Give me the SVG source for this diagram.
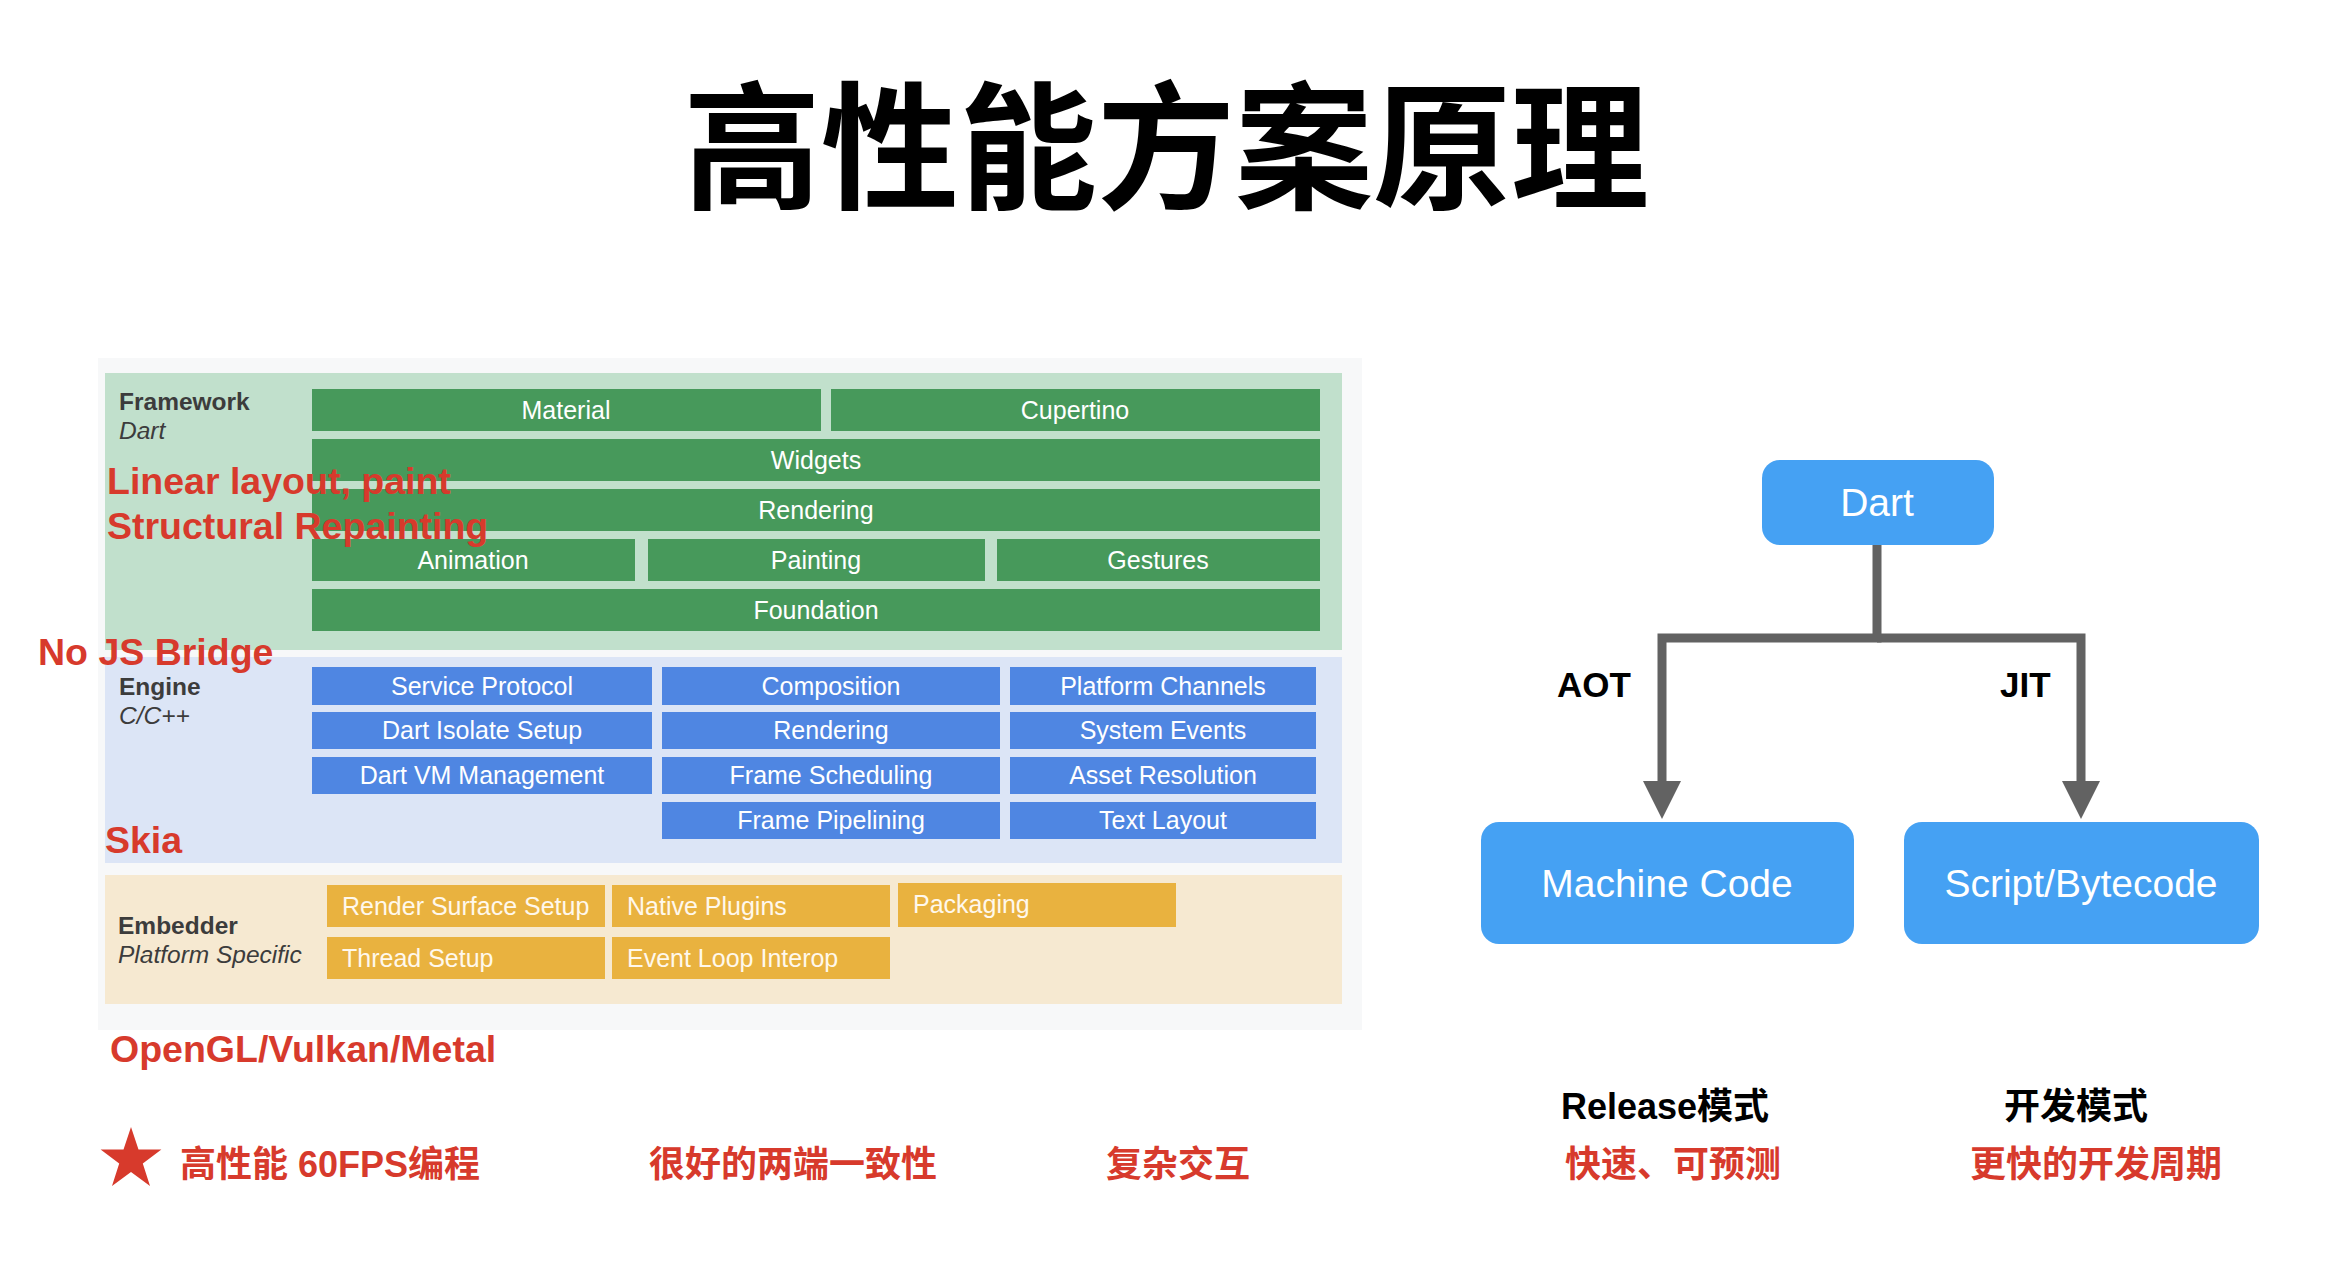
<svg xmlns="http://www.w3.org/2000/svg" width="2336" height="1266" viewBox="0 0 2336 1266">
<defs>
<style>
.lat{font-family:"Liberation Sans",Arial,"Noto Sans CJK SC",sans-serif}
.cjk{font-family:"Liberation Sans","Noto Sans CJK SC",sans-serif}
.bar{fill:#fff;font-size:25px;text-anchor:middle}
.ebar{fill:#fff8ec;font-size:25px}
.gb{fill:#47995b}
.bb{fill:#4f86e2}
.ob{fill:#e9b23f}
.lbl{fill:#3c3c3c;font-size:24.5px}
.red{fill:#d73a2c;font-weight:bold}
.rl{font-size:37.5px}
.box{fill:#45a1f3}
.boxt{fill:#fff;font-size:39px;text-anchor:middle}
.conn{fill:none;stroke:#626262;stroke-width:9;stroke-linejoin:miter}
</style>
<marker id="arr" markerUnits="userSpaceOnUse" markerWidth="38" markerHeight="38" viewBox="0 0 38 38" refX="0" refY="19" orient="auto">
<path d="M0 0 L38 19 L0 38 z" fill="#626262"/>
</marker>
</defs>
<rect width="2336" height="1266" fill="#fff"/>
<g id="title">
<text class="cjk" x="1166" y="198" font-size="138" font-weight="bold" text-anchor="middle" fill="#000">高性能方案原理</text>
</g>
<g id="flutter-arch">
<rect x="98" y="358" width="1264" height="672" fill="#f7f8f9"/>
<g id="framework">
<rect x="105" y="373" width="1237" height="277" fill="#c1e0cc"/>
<text class="lat lbl" x="119" y="410" font-weight="bold">Framework</text>
<text class="lat lbl" x="119" y="439" font-style="italic">Dart</text>
<rect class="gb" x="312" y="389" width="509" height="42"/>
<rect class="gb" x="831" y="389" width="489" height="42"/>
<rect class="gb" x="312" y="439" width="1008" height="42"/>
<rect class="gb" x="312" y="489" width="1008" height="42"/>
<rect class="gb" x="312" y="539" width="323" height="42"/>
<rect class="gb" x="648" y="539" width="337" height="42"/>
<rect class="gb" x="997" y="539" width="323" height="42"/>
<rect class="gb" x="312" y="589" width="1008" height="42"/>
<text class="lat bar" x="566" y="419">Material</text>
<text class="lat bar" x="1075" y="419">Cupertino</text>
<text class="lat bar" x="816" y="469">Widgets</text>
<text class="lat bar" x="816" y="519">Rendering</text>
<text class="lat bar" x="473" y="569">Animation</text>
<text class="lat bar" x="816" y="569">Painting</text>
<text class="lat bar" x="1158" y="569">Gestures</text>
<text class="lat bar" x="816" y="619">Foundation</text>
</g>
<g id="engine">
<rect x="105" y="657" width="1237" height="206" fill="#dce5f6"/>
<text class="lat lbl" x="119" y="695" font-weight="bold">Engine</text>
<text class="lat lbl" x="119" y="724" font-style="italic">C/C++</text>
<rect class="bb" x="312" y="667" width="340" height="38"/>
<rect class="bb" x="312" y="712" width="340" height="37"/>
<rect class="bb" x="312" y="757" width="340" height="37"/>
<rect class="bb" x="662" y="667" width="338" height="38"/>
<rect class="bb" x="662" y="712" width="338" height="37"/>
<rect class="bb" x="662" y="757" width="338" height="37"/>
<rect class="bb" x="662" y="802" width="338" height="37"/>
<rect class="bb" x="1010" y="667" width="306" height="38"/>
<rect class="bb" x="1010" y="712" width="306" height="37"/>
<rect class="bb" x="1010" y="757" width="306" height="37"/>
<rect class="bb" x="1010" y="802" width="306" height="37"/>
<text class="lat bar" x="482" y="695">Service Protocol</text>
<text class="lat bar" x="482" y="739">Dart Isolate Setup</text>
<text class="lat bar" x="482" y="784">Dart VM Management</text>
<text class="lat bar" x="831" y="695">Composition</text>
<text class="lat bar" x="831" y="739">Rendering</text>
<text class="lat bar" x="831" y="784">Frame Scheduling</text>
<text class="lat bar" x="831" y="829">Frame Pipelining</text>
<text class="lat bar" x="1163" y="695">Platform Channels</text>
<text class="lat bar" x="1163" y="739">System Events</text>
<text class="lat bar" x="1163" y="784">Asset Resolution</text>
<text class="lat bar" x="1163" y="829">Text Layout</text>
</g>
<g id="embedder">
<rect x="105" y="875" width="1237" height="129" fill="#f6e9d1"/>
<text class="lat lbl" x="118" y="934" font-weight="bold">Embedder</text>
<text class="lat lbl" x="118" y="963" font-style="italic">Platform Specific</text>
<rect class="ob" x="327" y="885" width="278" height="42"/>
<rect class="ob" x="612" y="885" width="278" height="42"/>
<rect class="ob" x="898" y="883" width="278" height="44"/>
<rect class="ob" x="327" y="937" width="278" height="42"/>
<rect class="ob" x="612" y="937" width="278" height="42"/>
<text class="lat ebar" x="342" y="915">Render Surface Setup</text>
<text class="lat ebar" x="627" y="915">Native Plugins</text>
<text class="lat ebar" x="913" y="913">Packaging</text>
<text class="lat ebar" x="342" y="967">Thread Setup</text>
<text class="lat ebar" x="627" y="967">Event Loop Interop</text>
</g>
</g>
<g id="annotations">
<text class="lat red rl" x="107" y="494">Linear layout, paint</text>
<text class="lat red rl" x="107" y="539">Structural Repainting</text>
<text class="lat red rl" x="38" y="665">No JS Bridge</text>
<text class="lat red rl" x="105" y="853">Skia</text>
<text class="lat red rl" x="110" y="1062">OpenGL/Vulkan/Metal</text>
</g>
<g id="connectors">
<path class="conn" d="M1877 545 V638 H1662 V781" marker-end="url(#arr)"/>
<path class="conn" d="M1877 638 H2081 V781" marker-end="url(#arr)"/>
<text class="lat" x="1557" y="697" font-size="35" font-weight="bold" fill="#000">AOT</text>
<text class="lat" x="2000" y="697" font-size="35" font-weight="bold" fill="#000">JIT</text>
</g>
<g id="node-dart">
<rect class="box" x="1762" y="460" width="232" height="85" rx="18"/>
<text class="lat boxt" x="1877" y="516">Dart</text>
</g>
<g id="node-machine-code">
<rect class="box" x="1481" y="822" width="373" height="122" rx="18"/>
<text class="lat boxt" x="1667" y="897">Machine Code</text>
</g>
<g id="node-script-bytecode">
<rect class="box" x="1904" y="822" width="355" height="122" rx="18"/>
<text class="lat boxt" x="2081" y="897">Script/Bytecode</text>
</g>
<g id="bottom-notes">
<polygon points="131,1127 138.5,1149.6 161.4,1149.6 142.8,1163.4 150,1185.9 131,1172 112,1185.9 119.2,1163.4 100.6,1149.6 123.5,1149.6" fill="#d73a2c"/>
<text class="cjk red" x="180" y="1177" font-size="36">高性能 60FPS编程</text>
<text class="cjk red" x="649" y="1177" font-size="36">很好的两端一致性</text>
<text class="cjk red" x="1106" y="1177" font-size="36">复杂交互</text>
<text class="cjk" x="1561" y="1119" font-size="36" font-weight="bold" fill="#000">Release模式</text>
<text class="cjk" x="2004" y="1119" font-size="36" font-weight="bold" fill="#000">开发模式</text>
<text class="cjk red" x="1565" y="1177" font-size="36">快速、可预测</text>
<text class="cjk red" x="1970" y="1177" font-size="36">更快的开发周期</text>
</g>
</svg>
